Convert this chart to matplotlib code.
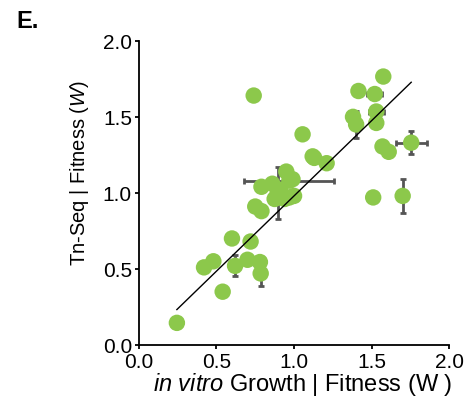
import numpy as np
import matplotlib.pyplot as plt

plt.rcParams['font.family'] = ['Liberation Sans', 'DejaVu Sans']
plt.rcParams['mathtext.fontset'] = 'custom'
plt.rcParams['mathtext.rm'] = 'Liberation Sans'
plt.rcParams['mathtext.it'] = 'Liberation Sans:italic'

# in vitro growth fitness (x) vs Tn-Seq fitness (y)
x_vitro = [0.245, 0.42, 0.48, 0.54, 0.60, 0.62, 0.70, 0.72, 0.78, 0.785,
           0.74, 0.75, 0.79, 0.79, 0.86, 0.875, 0.895, 0.91, 0.95, 0.94,
           0.97, 0.99, 1.00, 0.97, 1.055, 1.12, 1.13, 1.21, 1.38, 1.40,
           1.415, 1.52, 1.53, 1.53, 1.575, 1.57, 1.61, 1.755, 1.51, 1.70]
y_tnseq = [0.145, 0.51, 0.55, 0.35, 0.70, 0.52, 0.56, 0.68, 0.545, 0.47,
           1.64, 0.91, 0.88, 1.04, 1.06, 0.96, 1.00, 1.02, 1.14, 0.96,
           0.97, 1.09, 0.98, 1.08, 1.385, 1.24, 1.23, 1.195, 1.50, 1.45,
           1.67, 1.65, 1.535, 1.46, 1.765, 1.305, 1.27, 1.33, 0.97, 0.98]
x_err = [0, 0, 0, 0, 0, 0, 0, 0, 0, 0,
         0, 0, 0, 0, 0, 0, 0, 0, 0, 0,
         0, 0, 0, 0.29, 0, 0, 0, 0, 0, 0,
         0, 0.05, 0.05, 0, 0, 0, 0, 0.10, 0, 0]
y_err = [0, 0, 0, 0, 0, 0.07, 0, 0, 0, 0.08,
         0, 0, 0, 0, 0, 0, 0.17, 0, 0, 0,
         0, 0, 0, 0, 0, 0, 0, 0, 0, 0.09,
         0, 0, 0, 0, 0, 0, 0, 0.075, 0, 0.11]

# linear fit
fit_slope = 0.99
fit_intercept = -0.01

fig = plt.figure(figsize=(4.66, 4.06), dpi=100)
ax = fig.add_axes([0.298, 0.148, 0.666, 0.749])

ax.errorbar(x_vitro, y_tnseq, xerr=x_err, yerr=y_err, fmt='none',
            ecolor='#555555', elinewidth=2, capsize=2, capthick=2, zorder=1)
ax.scatter(x_vitro, y_tnseq, s=140, color='#8cc84b', edgecolors='none', zorder=2)

xl = np.array([min(x_vitro), max(x_vitro)])
ax.plot(xl, fit_slope * xl + fit_intercept, color='black', lw=1, zorder=3)

ax.set_xlim(0, 2)
ax.set_ylim(0, 2)
ax.set_xticks([0, 0.5, 1.0, 1.5, 2.0])
ax.set_yticks([0, 0.5, 1.0, 1.5, 2.0])
ax.set_xticklabels(['0.0', '0.5', '1.0', '1.5', '2.0'])
ax.set_yticklabels(['0.0', '0.5', '1.0', '1.5', '2.0'])
for s in ['top', 'right']:
    ax.spines[s].set_visible(False)
for s in ['left', 'bottom']:
    ax.spines[s].set_linewidth(1.3)
ax.tick_params(direction='out', length=3, width=1.3, labelsize=15)
ax.tick_params(axis='y', pad=2)
ax.tick_params(axis='x', pad=2)

ax.set_xlabel(r'$\it{in\ vitro}$ Growth | Fitness (W )', fontsize=17)
ax.xaxis.set_label_coords(0.529, -0.083)
ax.set_ylabel(r'Tn-Seq | Fitness ($\it{W}$)', fontsize=14.5)
ax.yaxis.set_label_coords(-0.155, 0.567)

fig.text(0.035, 0.931, 'E.', fontsize=17, fontweight='bold')

fig.savefig('out.png', dpi=100)
